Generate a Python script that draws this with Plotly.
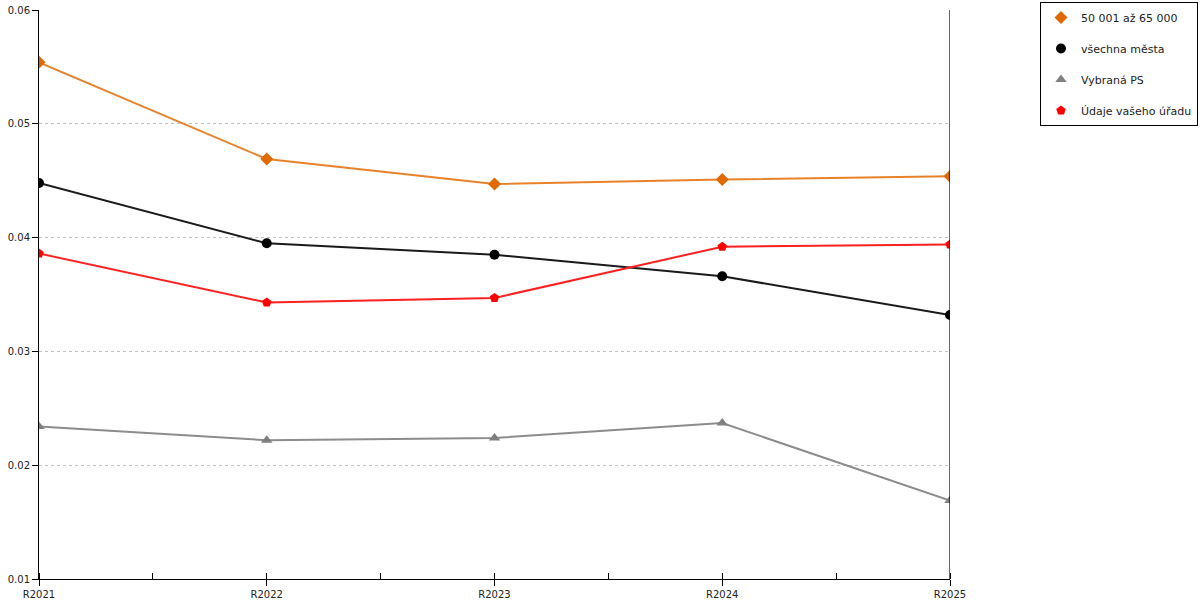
import plotly.graph_objects as go

years = ["R2021", "R2022", "R2023", "R2024", "R2025"]

# hodnoty
mesta_50_65 = [0.0554, 0.0469, 0.0447, 0.0451, 0.0454]
vsechna_mesta = [0.0448, 0.0395, 0.0385, 0.0366, 0.0332]
vybrana_ps = [0.0234, 0.0222, 0.0224, 0.0237, 0.0169]
vas_urad = [0.0386, 0.0343, 0.0347, 0.0392, 0.0394]

y_ticks = [0.01, 0.02, 0.03, 0.04, 0.05, 0.06]

series = [
    ("50 001 až 65 000", mesta_50_65, "#E8822A", "#E06A00", "diamond"),
    ("všechna města", vsechna_mesta, "#1a1a1a", "#000000", "circle"),
    ("Vybraná PS", vybrana_ps, "#8c8c8c", "#808080", "triangle-up"),
    ("Údaje vašeho úřadu", vas_urad, "#FF2020", "#FF0000", "pentagon"),
]

x = list(range(len(years)))

fig = go.Figure()
for i, (name, vals, lc, mc, sym) in enumerate(series):
    fig.add_trace(go.Scatter(
        x=x, y=vals, name=name, mode="lines+markers", showlegend=False,
        line=dict(color=lc, width=2),
        marker=dict(color=mc, symbol=sym, size=10),
    ))
    # jen značka do legendy
    fig.add_trace(go.Scatter(
        x=[None], y=[None], name=name, mode="markers",
        legendgroup="g%d" % i,
        marker=dict(color=mc, symbol=sym, size=10),
    ))

fig.add_shape(type="line", xref="x", yref="paper", x0=4, x1=4, y0=0, y1=1,
              line=dict(color="black", width=1.2))

W, H = 1200, 600
fig.update_layout(
    width=W, height=H,
    margin=dict(l=39, r=250, t=10, b=21, autoexpand=False),
    plot_bgcolor="white", paper_bgcolor="white",
    font=dict(family="DejaVu Sans", size=10, color="#222"),
    legend=dict(
        xref="container", yref="container",
        x=1040 / W, y=1 - 2 / H, xanchor="left", yanchor="top",
        bordercolor="black", borderwidth=1,
        tracegroupgap=12, font=dict(size=11),
        itemwidth=30,
    ),
    xaxis=dict(
        range=[0, 4], tickvals=x, ticktext=years, automargin=False,
        showgrid=False, zeroline=False,
        showline=True, linecolor="black", linewidth=1,
        ticks="outside", ticklen=6, tickcolor="black",
        minor=dict(dtick=0.5, tick0=0, ticks="inside", ticklen=6, tickcolor="black"),
    ),
    yaxis=dict(
        range=[0.01, 0.06], tickvals=y_ticks, automargin=False,
        ticklabeloverflow="allow",
        showgrid=True, gridcolor="#c0c0c0", griddash="dot",
        zeroline=False, showline=True, linecolor="black", linewidth=1,
        ticks="outside", ticklen=6, tickcolor="black",
        tickformat=".2f",
    ),
)

# bez okraje stránky, aby graf seděl na celé okno
fig.write_html("out.html", config={"displayModeBar": False},
               post_script="document.body.style.margin='0';")
